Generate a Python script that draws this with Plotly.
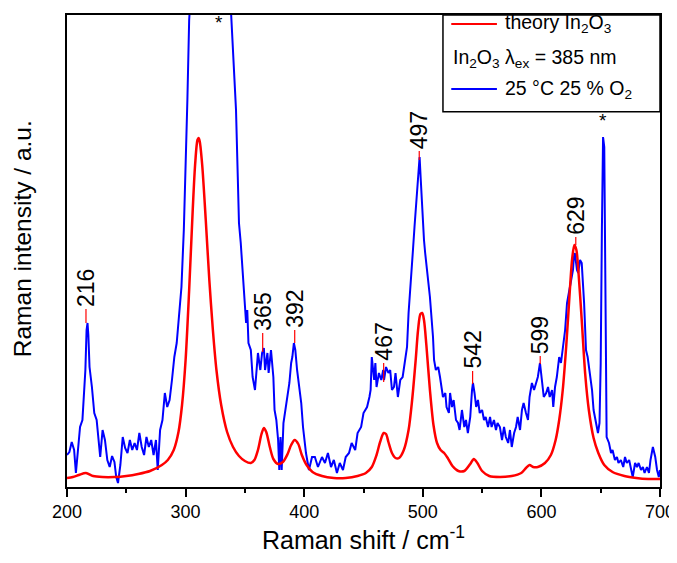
import plotly.graph_objects as go

# ---- data (Raman shift in cm^-1, intensity in a.u.) ----
theory_x = [200, 205, 210, 216, 222, 230, 240, 250, 260, 270, 280, 285, 290, 294, 297, 300, 303, 306, 308, 310,
            311, 312, 314, 317, 320, 323, 326, 330, 335, 340, 345, 350, 355, 358, 361, 364, 366, 368, 371, 374,
            378, 382, 386, 389, 392, 395, 398, 402, 407, 415, 425, 435, 445, 452, 457, 461, 464, 467, 469, 471,
            474, 477, 480, 484, 488, 491, 494, 496, 498, 499.5, 501, 503, 506, 509, 512, 515, 518, 521, 525, 530,
            535, 540, 543, 546, 550, 556, 565, 575, 583, 587, 590, 593, 597, 603, 608, 612, 615, 618, 621, 624,
            626, 627.8, 629.5, 631, 634, 637, 640, 644, 648, 653, 660, 670, 680, 690, 700]
theory_y = [9, 10, 12, 14, 11, 10, 10, 11, 13, 16, 22, 27, 37, 55, 82, 127, 197, 277, 322, 347,
            349, 345, 322, 267, 207, 157, 117, 82, 55, 40, 31, 26, 24, 27, 37, 53, 59, 55, 40, 28,
            23, 25, 33, 42, 47, 43, 32, 22, 15, 11, 9, 9, 11, 14, 20, 32, 45, 54, 53, 45,
            34, 29, 29, 37, 57, 87, 127, 157, 173, 174, 167, 142, 97, 62, 44, 37, 34, 29, 21, 16,
            16, 23, 28, 24, 16, 11, 10, 11, 14, 19, 22, 20, 20, 24, 32, 47, 67, 97, 142, 197,
            229, 242, 237, 219, 167, 112, 77, 49, 34, 22, 15, 11, 9, 8, 8]

meas_x = [200, 202, 204, 206, 207.5, 209, 211, 213, 214.5, 215.5, 216.5, 217.3, 218, 219, 221, 223, 225, 226.5, 228, 230,
          232, 234, 236, 238, 240, 241.5, 243, 245, 247, 249, 251, 253, 255, 257, 259, 261, 263, 265, 267, 269,
          271, 273, 275, 276.5, 278.5, 280.5, 282.5, 284.5, 286.5, 288.5, 290.5, 292.5, 294.5, 296.5, 298.5, 300, 301.5, 303, 305, 310,
          315, 320, 325, 330, 335, 338, 339.5, 341, 342.5, 344, 345, 346.5, 348, 349.5, 351, 352, 353, 355, 356.5, 358.5,
          360, 361, 363, 364.5, 366, 367, 369, 370, 372, 374, 375, 376.5, 378, 379, 380, 381, 382.5, 384, 386, 387.5,
          389, 390, 391.3, 392.5, 394, 396, 397.5, 399, 401.5, 404, 406.6, 409, 411.6, 415, 417.5, 420, 422.6, 425, 427.6, 430,
          432.7, 435, 437.8, 440, 443, 445, 448, 450, 453, 455, 456, 457, 459, 460, 461, 463, 465, 466.6, 467.3, 469,
          471, 472.5, 474, 475.7, 477, 479, 481, 483, 485, 486.7, 488, 490, 491.7, 493, 495, 496.5, 497.3, 498.3, 499.5, 501,
          502, 503.5, 506, 508.6, 509.5, 511, 513, 514.5, 516, 517, 519, 520, 522, 523, 524.6, 526, 528, 529.7, 531, 533,
          535, 536.4, 538, 540, 541.5, 542.3, 543.6, 545, 546.5, 548, 550, 551.6, 553, 555, 556.7, 558, 560, 561.7, 563, 565,
          566.8, 568.5, 570, 572, 573.5, 575, 577, 578.6, 580, 582, 583.6, 585, 587, 588.7, 590, 592, 593.8, 595.4, 597, 598.8,
          600.5, 602, 604, 605.6, 607, 609, 610, 611.5, 613, 615, 616.5, 618, 620, 621.6, 623, 624, 625, 626.6, 627.4, 628.2,
          630, 631, 632.6, 634, 636, 637.6, 639, 641, 642.7, 644, 646, 647.7, 649, 650, 651, 652, 653, 653.6, 654.5, 655,
          657, 658.7, 660, 662, 663.7, 665, 667, 669, 670.5, 672, 674, 675.5, 677, 679, 680.6, 682, 684, 685.6, 687, 689,
          690.7, 692, 694, 696, 697.5, 699, 700]
meas_y = [32, 35, 45, 37, 14, 37, 60, 67, 92, 117, 157, 164, 152, 120, 100, 74, 67, 50, 30, 57,
          47, 27, 20, 31, 25, 10, 4, 22, 50, 39, 34, 47, 37, 44, 37, 54, 40, 32, 50, 40,
          47, 32, 47, 17, 57, 67, 94, 80, 87, 107, 130, 144, 174, 200, 257, 317, 387, 467, 527, 607,
          617, 597, 567, 537, 507, 482, 447, 402, 377, 310, 264, 244, 217, 194, 164, 177, 144, 137, 110, 97,
          117, 134, 117, 134, 139, 117, 134, 114, 137, 110, 77, 67, 47, 17, 50, 17, 64, 77, 90, 104,
          124, 130, 144, 137, 117, 100, 84, 60, 34, 17, 30, 30, 20, 30, 24, 34, 20, 27, 14, 24,
          17, 30, 34, 44, 37, 54, 60, 74, 80, 90, 97, 130, 107, 124, 100, 114, 107, 117, 107, 120,
          114, 117, 97, 100, 114, 90, 107, 110, 127, 140, 174, 204, 237, 260, 292, 322, 330, 307, 274, 247,
          234, 217, 190, 150, 127, 117, 120, 110, 100, 90, 94, 80, 74, 94, 80, 87, 67, 64, 57, 77,
          60, 67, 54, 70, 97, 104, 94, 80, 87, 74, 77, 67, 70, 60, 70, 60, 67, 57, 64, 60,
          47, 60, 50, 44, 57, 40, 54, 60, 70, 57, 77, 84, 74, 67, 90, 104, 97, 104, 110, 124,
          107, 90, 94, 100, 90, 97, 80, 100, 110, 130, 124, 137, 157, 184, 194, 200, 204, 217, 230, 234,
          217, 214, 227, 224, 184, 137, 130, 114, 97, 77, 64, 54, 64, 124, 257, 350, 340, 224, 90, 50,
          44, 34, 37, 27, 30, 24, 27, 20, 30, 24, 27, 20, 10, 24, 20, 24, 17, 20, 14, 20,
          14, 27, 40, 30, 17, 10, 17]

peak_labels = ["216", "365", "392", "467", "497", "542", "599", "629"]
peak_x = [216, 365, 392, 467, 497, 542, 599, 629]
peak_top = [178, 154, 157, 124, 336, 116, 131, 250]     # where the label sits
peak_base = [164, 135, 144, 105, 327, 103, 123, 242]    # where the marker line ends
star_x = [328, 652]
star_y = [465, 367]

x_ticks = [200, 300, 400, 500, 600, 700]

FONT = "Arial, 'Liberation Sans', sans-serif"

fig = go.Figure()

fig.add_trace(go.Scatter(x=meas_x, y=meas_y, mode="lines", line=dict(color="#0000ff", width=2),
                         showlegend=False, hoverinfo="skip"))
fig.add_trace(go.Scatter(x=theory_x, y=theory_y, mode="lines",
                         line=dict(color="#ff0000", width=2.5, shape="spline", smoothing=0.8),
                         showlegend=False, hoverinfo="skip"))

# peak marker lines
for px, top, base in zip(peak_x, peak_top, peak_base):
    fig.add_trace(go.Scatter(x=[px, px], y=[base, top], mode="lines", line=dict(color="#ff0000", width=1.2),
                             showlegend=False, hoverinfo="skip"))

for lab, px, top in zip(peak_labels, peak_x, peak_top):
    fig.add_annotation(x=px, y=top, text=lab, textangle=-90, showarrow=False,
                       xanchor="center", yanchor="bottom", yshift=0,
                       font=dict(family=FONT, size=23, color="black"))

for sx, sy in zip(star_x, star_y):
    fig.add_annotation(x=sx, y=sy, text="*", showarrow=False, font=dict(family=FONT, size=19, color="black"))

# legend (drawn manually to match layout)
fig.add_shape(type="rect", xref="paper", yref="paper", x0=0.634, x1=1.0, y0=0.795, y1=1.0,
              line=dict(color="black", width=1.5), fillcolor="white", layer="below")
fig.add_shape(type="line", xref="paper", yref="paper", x0=0.648, x1=0.725, y0=0.981, y1=0.981,
              line=dict(color="#ff0000", width=2))
fig.add_shape(type="line", xref="paper", yref="paper", x0=0.648, x1=0.725, y0=0.843, y1=0.843,
              line=dict(color="#0000ff", width=2))
leg_font = dict(family=FONT, size=19.5, color="black")
fig.add_annotation(xref="paper", yref="paper", x=0.735, y=0.981, text="theory In<sub>2</sub>O<sub>3</sub>",
                   showarrow=False, xanchor="left", yanchor="middle", font=leg_font)
fig.add_annotation(xref="paper", yref="paper", x=0.648, y=0.907, text="In<sub>2</sub>O<sub>3</sub> λ<sub>ex</sub> = 385 nm",
                   showarrow=False, xanchor="left", yanchor="middle", font=leg_font)
fig.add_annotation(xref="paper", yref="paper", x=0.735, y=0.843, text="25 °C 25 % O<sub>2</sub>",
                   showarrow=False, xanchor="left", yanchor="middle", font=leg_font)

# y-axis title (placed as annotation to match its slightly raised position)
fig.add_annotation(xref="paper", yref="paper", x=0, y=0.525, xshift=-45, text="Raman intensity / a.u.",
                   textangle=-90, showarrow=False, xanchor="center", yanchor="middle",
                   font=dict(family=FONT, size=24.5, color="black"))

# the page body adds an 8px offset, so the figure is 8px smaller and margins shifted
fig.update_layout(
    width=669, height=555,
    margin=dict(l=59, r=17, t=7, b=76, autoexpand=False),
    plot_bgcolor="white", paper_bgcolor="white",
    font=dict(family=FONT, color="black"),
    showlegend=False,
)
fig.update_xaxes(range=[200, 700], tickvals=x_ticks, ticks="outside", ticklen=8, tickwidth=1.5, tickcolor="black",
                 minor=dict(dtick=50, ticks="outside", ticklen=4, tickwidth=1.5, tickcolor="black"),
                 showline=True, linecolor="black", linewidth=1.5, mirror=True, showgrid=False, zeroline=False,
                 tickfont=dict(size=18), automargin=False,
                 title=dict(text="Raman shift / cm<sup>-1</sup>", font=dict(size=25), standoff=7))
fig.update_yaxes(range=[0, 472], showticklabels=False, ticks="", showline=True, linecolor="black", linewidth=1.5,
                 mirror=True, showgrid=False, zeroline=False, automargin=False)

fig.write_html("out.html")
